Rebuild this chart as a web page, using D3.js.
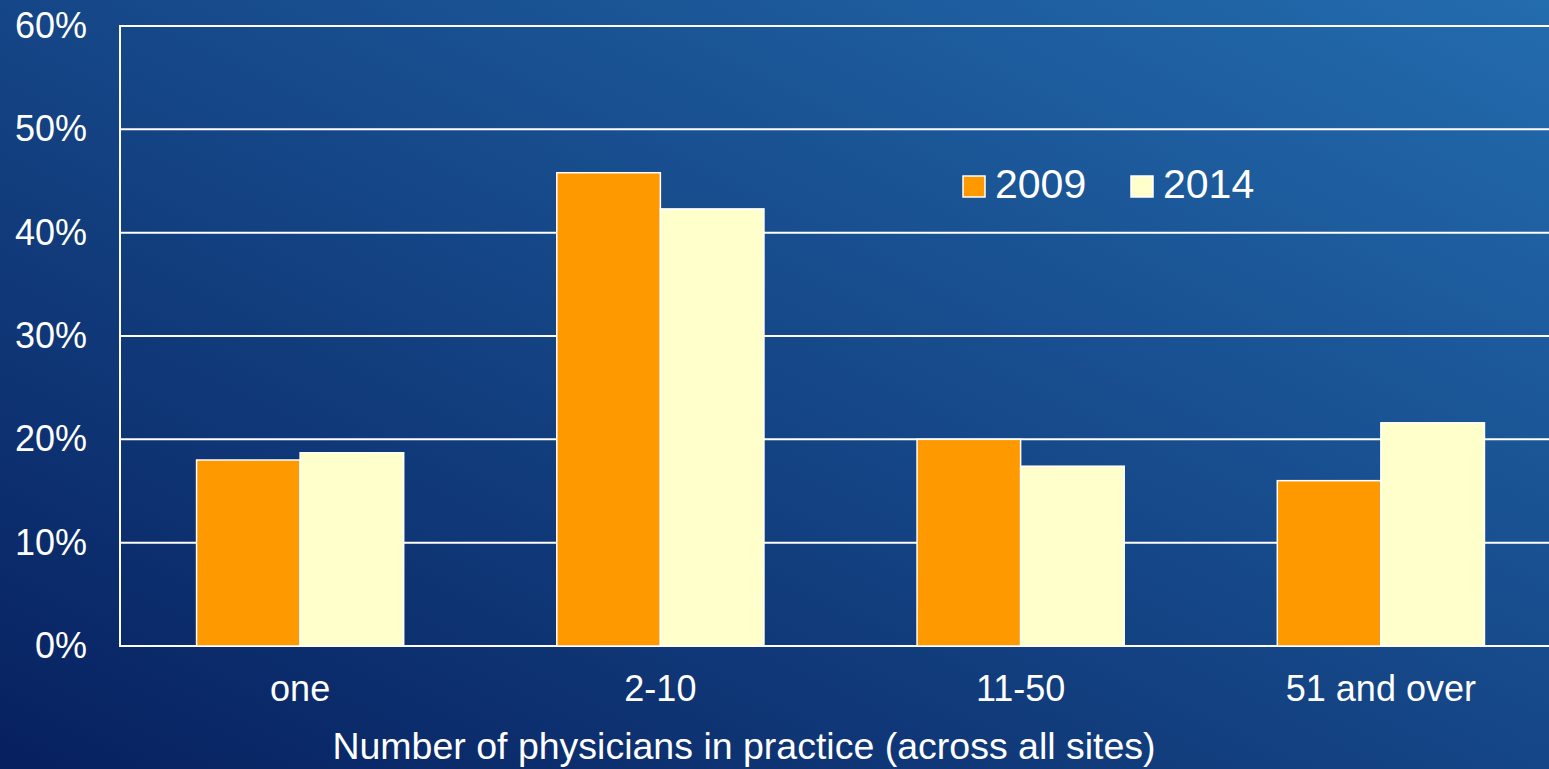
<!DOCTYPE html>
<html>
<head>
<meta charset="utf-8">
<script src="https://cdn.jsdelivr.net/npm/d3@7"></script>
<style>
  html, body { margin: 0; padding: 0; overflow: hidden; }
  svg { display: block; font-family: 'Liberation Sans', Arial, sans-serif; }
</style>
</head>
<body>
<svg width="1549" height="769"></svg>
<script>
const categories = ['one', '2-10', '11-50', '51 and over']
const years = ['2009', '2014']
const values2009 = [18.0, 45.8, 20.0, 16.0]
const values2014 = [18.7, 42.3, 17.4, 21.6]
const yTicks = [0, 10, 20, 30, 40, 50, 60]

const width = 1549
const height = 769
const margin = { top: 26, right: -12, bottom: 123, left: 120 }
const colors = ['#FF9900', '#FFFFCC']

const data = categories.map((c, i) => ({ cat: c, '2009': values2009[i], '2014': values2014[i] }))

const svg = d3.select('svg')

// background gradient
const grad = svg.append('defs').append('linearGradient')
  .attr('id', 'bg')
  .attr('x1', '0%').attr('y1', '100%')
  .attr('x2', '100%').attr('y2', '0%')
grad.append('stop').attr('offset', '0%').attr('stop-color', '#07205f')
grad.append('stop').attr('offset', '100%').attr('stop-color', '#236cae')
svg.append('rect')
  .attr('width', width)
  .attr('height', height)
  .attr('fill', 'url(#bg)')

const xScale = d3.scaleBand(categories, [margin.left, width - margin.right])
  .paddingInner(0.425)
  .paddingOuter(0.2125)
const xInner = d3.scaleBand(years, [0, xScale.bandwidth()])

const yScale = d3.scaleLinear([0, 60], [height - margin.bottom, margin.top])

// gridlines
svg.append('g')
  .selectAll('line')
  .data(yTicks)
  .join('line')
  .attr('x1', margin.left)
  .attr('x2', width)
  .attr('y1', d => yScale(d))
  .attr('y2', d => yScale(d))
  .attr('stroke', '#fff')
  .attr('stroke-width', 2)

// Y axis line
svg.append('line')
  .attr('x1', margin.left)
  .attr('x2', margin.left)
  .attr('y1', yScale(0) + 1)
  .attr('y2', yScale(60) - 1)
  .attr('stroke', '#fff')
  .attr('stroke-width', 2)

// bars
const groups = svg.append('g')
  .selectAll('g')
  .data(data)
  .join('g')
  .attr('transform', d => `translate(${ xScale(d.cat) },0)`)

groups.selectAll('rect')
  .data(d => years.map((y, i) => ({ year: y, value: d[y], color: colors[i] })))
  .join('rect')
  .attr('x', d => xInner(d.year))
  .attr('y', d => yScale(d.value))
  .attr('width', xInner.bandwidth())
  .attr('height', d => yScale(0) - yScale(d.value))
  .attr('fill', d => d.color)
  .attr('stroke', '#fff')
  .attr('stroke-width', 1.5)

// y tick labels
const yAxis = d3.axisLeft(yScale)
  .tickValues(yTicks)
  .tickFormat(d => d + '%')
  .tickSize(0)
  .tickPadding(33)
const yAxisEl = svg.append('g')
  .attr('transform', `translate(${ margin.left },0)`)
  .call(yAxis)
yAxisEl.select('.domain').remove()
yAxisEl.selectAll('text')
  .attr('fill', '#fff')
  .style('font-size', '36px')
  .style('font-family', "'Liberation Sans', Arial, sans-serif")

// x tick labels
const xAxis = d3.axisBottom(xScale)
  .tickSize(0)
  .tickPadding(29)
const xAxisEl = svg.append('g')
  .attr('transform', `translate(0,${ yScale(0) })`)
  .call(xAxis)
xAxisEl.select('.domain').remove()
xAxisEl.selectAll('text')
  .attr('fill', '#fff')
  .style('font-size', '36px')
  .style('font-family', "'Liberation Sans', Arial, sans-serif")

// x axis title
svg.append('text')
  .attr('x', 744)
  .attr('y', 759)
  .attr('text-anchor', 'middle')
  .attr('fill', '#fff')
  .style('font-size', '37.5px')
  .text('Number of physicians in practice (across all sites)')

// legend
const legend = svg.append('g')
  .attr('transform', 'translate(963,176)')
const legendItems = legend.selectAll('g')
  .data(years)
  .join('g')
  .attr('transform', (d, i) => `translate(${ i * 168 },0)`)
legendItems.append('rect')
  .attr('width', 22)
  .attr('height', 21)
  .attr('fill', (d, i) => colors[i])
  .attr('stroke', '#fff')
  .attr('stroke-width', 1.5)
legendItems.append('text')
  .attr('x', 32)
  .attr('y', 22)
  .attr('fill', '#fff')
  .style('font-size', '41px')
  .text(d => d)
</script>
</body>
</html>
